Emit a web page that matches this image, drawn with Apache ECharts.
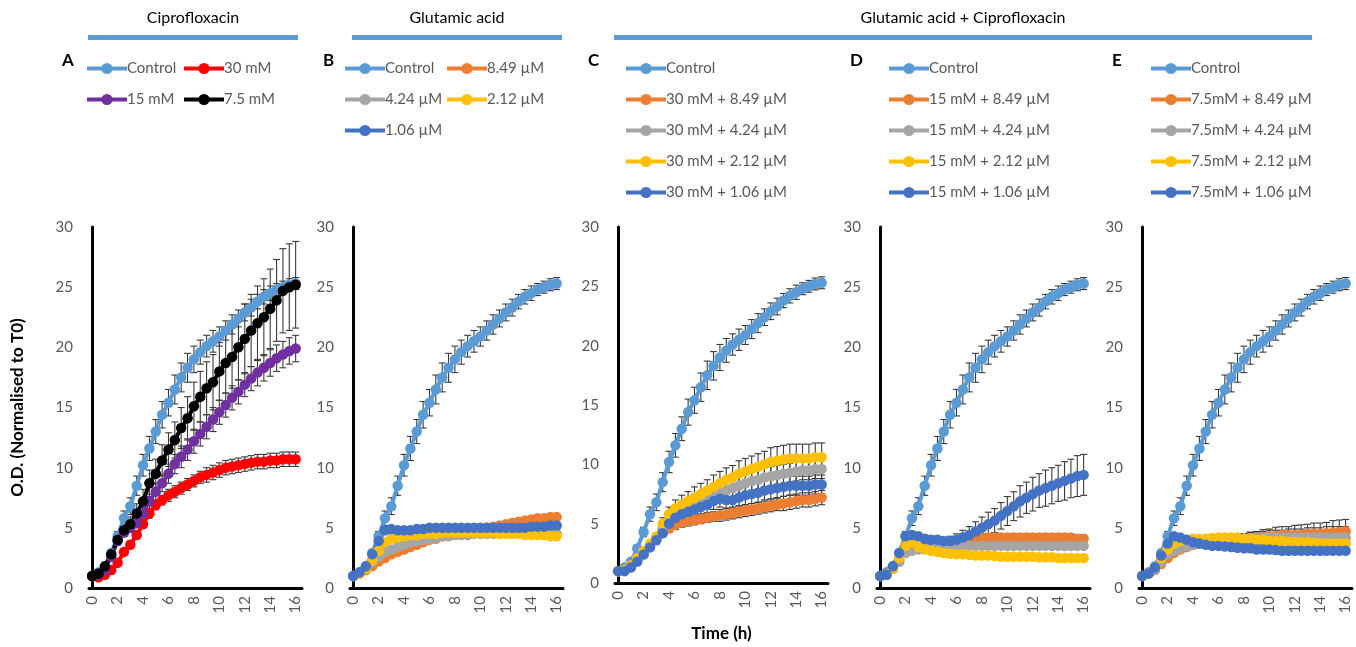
<!DOCTYPE html>
<html><head><meta charset="utf-8">
<script src="https://cdn.jsdelivr.net/npm/echarts@6/dist/echarts.min.js"></script>
<style>html,body{margin:0;padding:0;background:#fff}#c{width:1356px;height:647px}</style>
</head><body><div id="c"></div>
<script>
// ---------- data ----------
const time = [0,0.5,1,1.5,2,2.5,3,3.5,4,4.5,5,5.5,6,6.5,7,7.5,8,8.5,9,9.5,10,10.5,11,11.5,12,12.5,13,13.5,14,14.5,15,15.5,16];
const xTickLabels = [0,2,4,6,8,10,12,14,16];
const yTicks = [0,5,10,15,20,25,30];

const control    = [1.0,1.3,1.8,2.9,4.3,5.8,6.8,8.5,10.2,11.6,13.0,14.4,15.4,16.5,17.5,18.3,19.0,19.6,20.1,20.5,20.9,21.4,21.9,22.4,22.9,23.3,23.8,24.2,24.5,24.8,25.0,25.2,25.3];
const controlErr = [0.1,0.1,0.2,0.3,0.4,0.6,0.7,0.8,0.9,1.0,1.0,1.1,1.1,1.2,1.2,1.2,1.1,1.0,0.9,0.9,0.8,0.8,0.8,0.7,0.7,0.7,0.6,0.6,0.6,0.5,0.5,0.5,0.5];

// Panel A – Ciprofloxacin
const cipro30    = [1.0,0.9,1.1,1.5,2.1,3.0,3.6,4.4,5.3,6.2,6.9,7.3,7.7,8.0,8.3,8.6,8.9,9.2,9.4,9.6,9.8,10.0,10.1,10.2,10.3,10.4,10.5,10.5,10.6,10.6,10.7,10.7,10.7];
const cipro30Err = [0.05,0.05,0.1,0.1,0.2,0.2,0.3,0.3,0.3,0.4,0.4,0.4,0.5,0.5,0.5,0.5,0.5,0.5,0.6,0.6,0.6,0.6,0.6,0.6,0.6,0.6,0.6,0.6,0.6,0.6,0.6,0.6,0.6];
const cipro15    = [1.0,1.1,1.5,2.6,3.9,4.6,5.0,5.4,6.2,7.2,8.0,8.7,9.5,10.3,10.9,11.5,12.2,12.8,13.4,14.0,14.6,15.2,15.8,16.3,16.9,17.4,17.9,18.3,18.7,19.1,19.4,19.7,19.9];
const cipro15Err = [0.05,0.1,0.1,0.2,0.3,0.3,0.4,0.4,0.5,0.6,0.7,0.7,0.8,0.8,0.9,0.9,1.0,1.0,1.0,1.0,1.0,1.0,1.0,1.0,1.0,1.0,1.1,1.1,1.1,1.1,1.1,1.1,1.1];
const cipro7     = [1.0,1.2,1.8,2.8,4.0,4.8,5.3,6.2,7.2,8.7,9.5,10.6,11.5,12.3,13.3,14.1,15.1,15.9,16.6,17.1,18.0,18.7,19.2,20.0,20.7,21.4,22.0,22.5,23.2,23.9,24.7,25.0,25.2];
const cipro7Err  = [0.05,0.1,0.2,0.3,0.4,0.5,0.6,0.8,1.0,1.1,1.2,1.3,1.4,1.5,1.7,1.8,2.0,2.1,2.2,2.3,2.4,2.5,2.6,2.7,2.9,3.0,3.1,3.2,3.3,3.4,3.5,3.6,3.6];

// Panel B – Glutamic acid
const glu849 = [1.0,1.2,1.5,1.8,2.2,2.5,2.8,3.0,3.2,3.4,3.6,3.8,4.0,4.1,4.3,4.4,4.5,4.6,4.7,4.8,4.9,5.0,5.1,5.2,5.3,5.4,5.5,5.6,5.7,5.8,5.8,5.9,5.9];
const glu424 = [1.0,1.2,1.6,2.1,2.6,3.0,3.2,3.4,3.6,3.8,3.9,4.0,4.1,4.2,4.3,4.3,4.4,4.4,4.4,4.5,4.5,4.5,4.5,4.5,4.5,4.5,4.5,4.5,4.5,4.5,4.5,4.5,4.5];
const glu212 = [1.0,1.2,1.6,2.3,3.1,3.8,4.1,4.2,4.3,4.4,4.4,4.5,4.5,4.5,4.6,4.6,4.6,4.6,4.6,4.6,4.6,4.6,4.6,4.5,4.5,4.5,4.5,4.4,4.4,4.4,4.4,4.3,4.3];
const glu106 = [1.0,1.3,1.8,2.8,3.9,4.8,4.9,4.8,4.8,4.8,4.9,4.9,5.0,5.0,5.0,5.0,5.0,5.0,5.0,5.0,5.0,5.0,5.0,5.0,5.0,5.0,5.0,5.0,5.1,5.1,5.1,5.2,5.2];
const gluErr = [0.05,0.05,0.1,0.1,0.1,0.1,0.1,0.15,0.15,0.15,0.15,0.15,0.15,0.15,0.2,0.2,0.2,0.2,0.2,0.2,0.2,0.2,0.2,0.2,0.2,0.2,0.2,0.2,0.2,0.2,0.2,0.2,0.2];

// Panel C – 30 mM glutamic acid + ciprofloxacin
const c849 = [1.0,1.1,1.4,1.9,2.5,3.1,3.7,4.2,4.6,4.9,5.1,5.2,5.3,5.4,5.5,5.6,5.7,5.8,5.9,6.0,6.1,6.2,6.3,6.4,6.5,6.6,6.7,6.8,6.9,7.0,7.0,7.1,7.2];
const c424 = [1.0,1.1,1.4,1.9,2.5,3.1,3.8,4.6,5.2,5.6,6.0,6.3,6.6,6.9,7.1,7.4,7.6,7.8,8.0,8.2,8.4,8.6,8.7,8.9,9.0,9.1,9.2,9.3,9.4,9.5,9.5,9.6,9.6];
const c212 = [1.0,1.1,1.5,2.1,2.7,3.3,3.9,5.0,5.8,6.3,6.6,6.9,7.2,7.5,7.8,8.1,8.4,8.7,8.9,9.2,9.4,9.6,9.8,10.0,10.2,10.3,10.4,10.5,10.5,10.5,10.5,10.6,10.6];
const c106 = [1.0,1.0,1.3,1.8,2.4,3.0,3.6,4.2,5.0,5.5,5.8,6.0,6.2,6.4,6.6,6.9,7.1,7.0,7.0,7.2,7.4,7.5,7.6,7.8,7.9,8.0,8.1,8.2,8.2,8.2,8.2,8.3,8.3];
const c849Err = [0.05,0.05,0.1,0.1,0.2,0.2,0.3,0.3,0.3,0.4,0.4,0.4,0.4,0.4,0.4,0.4,0.5,0.5,0.5,0.5,0.5,0.5,0.5,0.5,0.5,0.5,0.6,0.6,0.6,0.6,0.6,0.6,0.6];
const c424Err = [0.05,0.05,0.1,0.1,0.2,0.2,0.3,0.4,0.5,0.5,0.6,0.6,0.6,0.7,0.7,0.7,0.7,0.8,0.8,0.8,0.8,0.8,0.8,0.8,0.8,0.8,0.8,0.8,0.8,0.8,0.8,0.8,0.8];
const c212Err = [0.05,0.05,0.1,0.1,0.2,0.2,0.3,0.5,0.6,0.7,0.8,0.8,0.9,0.9,0.9,1.0,1.0,1.0,1.0,1.1,1.1,1.1,1.1,1.1,1.2,1.2,1.2,1.2,1.2,1.2,1.2,1.2,1.2];
const c106Err = [0.05,0.05,0.1,0.1,0.2,0.2,0.3,0.3,0.4,0.5,0.5,0.6,0.6,0.6,0.7,0.7,0.7,0.7,0.7,0.7,0.8,0.8,0.8,0.8,0.8,0.8,0.8,0.8,0.8,0.8,0.8,0.8,0.8];

// Panel D – 15 mM glutamic acid + ciprofloxacin
const d849 = [1.0,1.1,1.6,2.2,3.0,3.3,3.4,3.5,3.6,3.7,3.7,3.8,3.9,4.0,4.1,4.2,4.2,4.2,4.2,4.2,4.2,4.2,4.2,4.2,4.2,4.2,4.2,4.2,4.2,4.2,4.2,4.1,4.1];
const d424 = [1.0,1.1,1.6,2.2,2.9,3.1,3.2,3.3,3.4,3.4,3.4,3.5,3.5,3.5,3.5,3.5,3.5,3.5,3.5,3.5,3.5,3.5,3.5,3.5,3.5,3.5,3.5,3.5,3.5,3.5,3.5,3.5,3.5];
const d212 = [1.0,1.1,1.6,2.5,3.5,3.8,3.4,3.2,3.1,3.0,2.9,2.85,2.8,2.8,2.75,2.7,2.7,2.7,2.65,2.6,2.6,2.6,2.6,2.6,2.6,2.55,2.55,2.55,2.5,2.5,2.5,2.5,2.5];
const d106 = [1.0,1.1,1.8,2.9,4.3,4.4,4.3,4.1,4.0,4.0,3.9,3.9,4.0,4.2,4.4,4.7,5.0,5.3,5.6,6.0,6.4,6.8,7.2,7.5,7.8,8.1,8.3,8.5,8.7,8.9,9.1,9.3,9.4];
const d849Err = [0.05,0.05,0.1,0.1,0.2,0.3,0.3,0.3,0.3,0.3,0.3,0.3,0.3,0.3,0.3,0.3,0.3,0.3,0.3,0.3,0.3,0.3,0.3,0.3,0.3,0.3,0.3,0.3,0.3,0.3,0.3,0.3,0.3];
const d424Err = [0.05,0.05,0.1,0.1,0.1,0.1,0.2,0.2,0.2,0.2,0.2,0.2,0.2,0.2,0.2,0.2,0.2,0.2,0.2,0.2,0.2,0.2,0.2,0.2,0.2,0.2,0.2,0.2,0.2,0.2,0.2,0.2,0.2];
const d212Err = [0.05,0.05,0.1,0.1,0.1,0.1,0.1,0.1,0.1,0.1,0.1,0.1,0.1,0.1,0.1,0.1,0.1,0.1,0.1,0.1,0.1,0.1,0.1,0.1,0.1,0.1,0.1,0.1,0.1,0.1,0.1,0.1,0.1];
const d106Err = [0.05,0.1,0.1,0.2,0.3,0.3,0.3,0.3,0.3,0.3,0.3,0.4,0.5,0.6,0.7,0.8,0.9,1.0,1.0,1.1,1.2,1.2,1.3,1.3,1.4,1.4,1.5,1.5,1.5,1.6,1.6,1.7,1.7];

// Panel E – 7.5 mM glutamic acid + ciprofloxacin
const e849 = [1.0,1.2,1.5,2.0,2.5,2.9,3.2,3.4,3.6,3.7,3.8,3.85,3.9,3.95,4.0,4.05,4.1,4.15,4.2,4.25,4.3,4.35,4.4,4.4,4.4,4.45,4.5,4.5,4.5,4.55,4.6,4.65,4.7];
const e424 = [1.0,1.2,1.5,2.1,2.8,3.1,3.3,3.5,3.6,3.7,3.8,3.85,3.9,3.95,4.0,4.05,4.1,4.1,4.15,4.2,4.2,4.2,4.2,4.2,4.2,4.2,4.2,4.2,4.2,4.2,4.2,4.2,4.2];
const e212 = [1.0,1.2,1.7,2.5,3.2,3.7,3.9,4.0,4.1,4.1,4.1,4.15,4.2,4.2,4.2,4.2,4.1,4.1,4.0,4.0,3.9,3.9,3.9,3.85,3.8,3.8,3.8,3.75,3.7,3.7,3.7,3.7,3.7];
const e106 = [1.0,1.2,1.7,2.7,3.7,4.3,4.2,4.0,3.8,3.7,3.6,3.5,3.5,3.45,3.4,3.35,3.3,3.3,3.2,3.2,3.2,3.15,3.1,3.1,3.1,3.1,3.1,3.1,3.1,3.1,3.1,3.1,3.1];
const e849Err = [0.05,0.05,0.1,0.1,0.1,0.2,0.2,0.2,0.2,0.3,0.3,0.3,0.3,0.4,0.4,0.4,0.4,0.5,0.5,0.6,0.6,0.7,0.7,0.7,0.8,0.8,0.8,0.9,0.9,0.9,1.0,1.0,1.0];
const e424Err = [0.05,0.05,0.1,0.1,0.1,0.2,0.2,0.2,0.2,0.3,0.3,0.3,0.3,0.3,0.4,0.4,0.4,0.5,0.5,0.5,0.6,0.6,0.6,0.7,0.7,0.7,0.8,0.8,0.8,0.9,0.9,0.9,0.9];
const e212Err = [0.05,0.05,0.1,0.1,0.1,0.1,0.1,0.1,0.1,0.2,0.2,0.2,0.2,0.2,0.2,0.2,0.2,0.2,0.2,0.2,0.2,0.2,0.2,0.2,0.2,0.2,0.2,0.2,0.2,0.2,0.2,0.2,0.2];
const e106Err = [0.05,0.05,0.1,0.1,0.1,0.1,0.1,0.1,0.1,0.1,0.1,0.1,0.1,0.1,0.1,0.1,0.1,0.1,0.1,0.1,0.1,0.1,0.1,0.1,0.1,0.1,0.1,0.1,0.1,0.1,0.1,0.1,0.1];

// ---------- styling ----------
const COL = {control:'#5B9BD5', red:'#FF0000', purple:'#7030A0', black:'#000000',
             orange:'#ED7D31', grey:'#A5A5A5', yellow:'#FFC000', blue:'#4472C4'};
const FONT = 'Lato, "Open Sans", sans-serif';
const TXT = '#595959';

const panels = [
  {letter:'A', left:89, series:[
    ['Control', COL.control, control, controlErr],
    ['30 mM', COL.red, cipro30, cipro30Err],
    ['15 mM', COL.purple, cipro15, cipro15Err],
    ['7.5 mM', COL.black, cipro7, cipro7Err]],
    cols:[{left:85, names:['Control','15 mM']},{left:182, names:['30 mM','7.5 mM']}]},
  {letter:'B', left:350, series:[
    ['Control', COL.control, control, controlErr],
    ['8.49 µM', COL.orange, glu849, gluErr],
    ['4.24 µM', COL.grey, glu424, gluErr],
    ['2.12 µM', COL.yellow, glu212, gluErr],
    ['1.06 µM', COL.blue, glu106, gluErr]],
    cols:[{left:343, names:['Control','4.24 µM','1.06 µM']},{left:445, names:['8.49 µM','2.12 µM']}]},
  {letter:'C', left:615, series:[
    ['Control', COL.control, control, controlErr],
    ['30 mM + 8.49 µM', COL.orange, c849, c849Err],
    ['30 mM + 4.24 µM', COL.grey, c424, c424Err],
    ['30 mM + 2.12 µM', COL.yellow, c212, c212Err],
    ['30 mM + 1.06 µM', COL.blue, c106, c106Err]],
    cols:[{left:624, names:['Control','30 mM + 8.49 µM','30 mM + 4.24 µM','30 mM + 2.12 µM','30 mM + 1.06 µM']}]},
  {letter:'D', left:877, series:[
    ['Control', COL.control, control, controlErr],
    ['15 mM + 8.49 µM', COL.orange, d849, d849Err],
    ['15 mM + 4.24 µM', COL.grey, d424, d424Err],
    ['15 mM + 2.12 µM', COL.yellow, d212, d212Err],
    ['15 mM + 1.06 µM', COL.blue, d106, d106Err]],
    cols:[{left:887, names:['Control','15 mM + 8.49 µM','15 mM + 4.24 µM','15 mM + 2.12 µM','15 mM + 1.06 µM']}]},
  {letter:'E', left:1139, series:[
    ['Control', COL.control, control, controlErr],
    ['7.5mM + 8.49 µM', COL.orange, e849, e849Err],
    ['7.5mM + 4.24 µM', COL.grey, e424, e424Err],
    ['7.5mM + 2.12 µM', COL.yellow, e212, e212Err],
    ['7.5mM + 1.06 µM', COL.blue, e106, e106Err]],
    cols:[{left:1149, names:['Control','7.5mM + 8.49 µM','7.5mM + 4.24 µM','7.5mM + 2.12 µM','7.5mM + 1.06 µM']}]}
];

function errRender(params, api){
  const x = api.value(0), lo = api.value(1), hi = api.value(2);
  const a = api.coord([x, lo]), b = api.coord([x, hi]);
  const w = 3.5;
  const style = {stroke:'#3A3A3A', lineWidth:1.1};
  return {type:'group', children:[
    {type:'line', shape:{x1:a[0],y1:a[1],x2:b[0],y2:b[1]}, style},
    {type:'line', shape:{x1:a[0]-w,y1:a[1],x2:a[0]+w,y2:a[1]}, style},
    {type:'line', shape:{x1:b[0]-w,y1:b[1],x2:b[0]+w,y2:b[1]}, style}
  ]};
}

const grid=[], xAxis=[], yAxis=[], series=[], legend=[], graphic=[];
panels.forEach((p, i) => {
  grid.push({left:p.left, width:213, top:227, height:361});
  xAxis.push({type:'value', gridIndex:i, min:-0.25, max:16.5,
    axisLine:{show:true, onZero:false, lineStyle:{color:'#000', width:3}},
    axisTick:{show:false}, splitLine:{show:false},
    axisLabel:{customValues:xTickLabels, rotate:90, margin:8, color:TXT, fontSize:15, fontFamily:FONT},
    name: i===2 ? 'Time (h)' : '', nameLocation:'middle', nameGap:42,
    nameTextStyle:{fontWeight:'bold', fontSize:17, color:'#000', fontFamily:FONT}});
  yAxis.push({type:'value', gridIndex:i, min:0, max:30, interval:5,
    axisLine:{show:true, lineStyle:{color:'#000', width:3}},
    axisTick:{show:false}, splitLine:{show:false},
    axisLabel:{color:TXT, fontSize:15, margin:16, fontFamily:FONT},
    name: i===0 ? 'O.D. (Normalised to T0)' : '', nameLocation:'middle', nameGap:63, nameRotate:90,
    nameTextStyle:{fontWeight:'bold', fontSize:17, color:'#000', fontFamily:FONT}});
  p.series.forEach(([name, color, vals, err]) => {
    series.push({type:'custom', name:'err-'+name+'-'+i, xAxisIndex:i, yAxisIndex:i,
      renderItem:errRender, encode:{x:0, y:[1,2]}, silent:true,
      data: vals.map((v, k) => [time[k], v - err[k], v + err[k]])});
    series.push({type:'line', name, xAxisIndex:i, yAxisIndex:i, color,
      symbol:'circle', symbolSize:10.5, showSymbol:true,
      lineStyle:{width:4, color}, itemStyle:{color},
      data: vals.map((v, k) => [time[k], v]), animation:false});
  });
  p.cols.forEach(c => legend.push({orient:'vertical', left:c.left, top:61, padding:0,
    itemWidth:40, itemHeight:14, itemGap:16, selectedMode:false, data:c.names,
    lineStyle:{width:4},
    textStyle:{color:TXT, fontSize:15, fontFamily:FONT, lineHeight:14, padding:[0,0,0,-5]}}));
  graphic.push({type:'text', left:p.left - 27, top:52,
    style:{text:p.letter, font:'bold 17px ' + FONT, fill:'#000'}});
});

// group headers
const headers = [
  {text:'Ciprofloxacin', x1:88, x2:298},
  {text:'Glutamic acid', x1:352, x2:562},
  {text:'Glutamic acid + Ciprofloxacin', x1:614, x2:1312}
];
headers.forEach(h => {
  graphic.push({type:'rect', shape:{x:h.x1, y:35, width:h.x2-h.x1, height:5}, style:{fill:'#5B9BD5'}});
  graphic.push({type:'text', x:(h.x1+h.x2)/2, y:18,
    style:{text:h.text, font:'16px ' + FONT, fill:'#000', align:'center', verticalAlign:'middle'}});
});

const chart = echarts.init(document.getElementById('c'), null, {renderer:'canvas'});
chart.setOption({animation:false, backgroundColor:'#fff', grid, xAxis, yAxis, series, legend, graphic});
</script></body></html>
